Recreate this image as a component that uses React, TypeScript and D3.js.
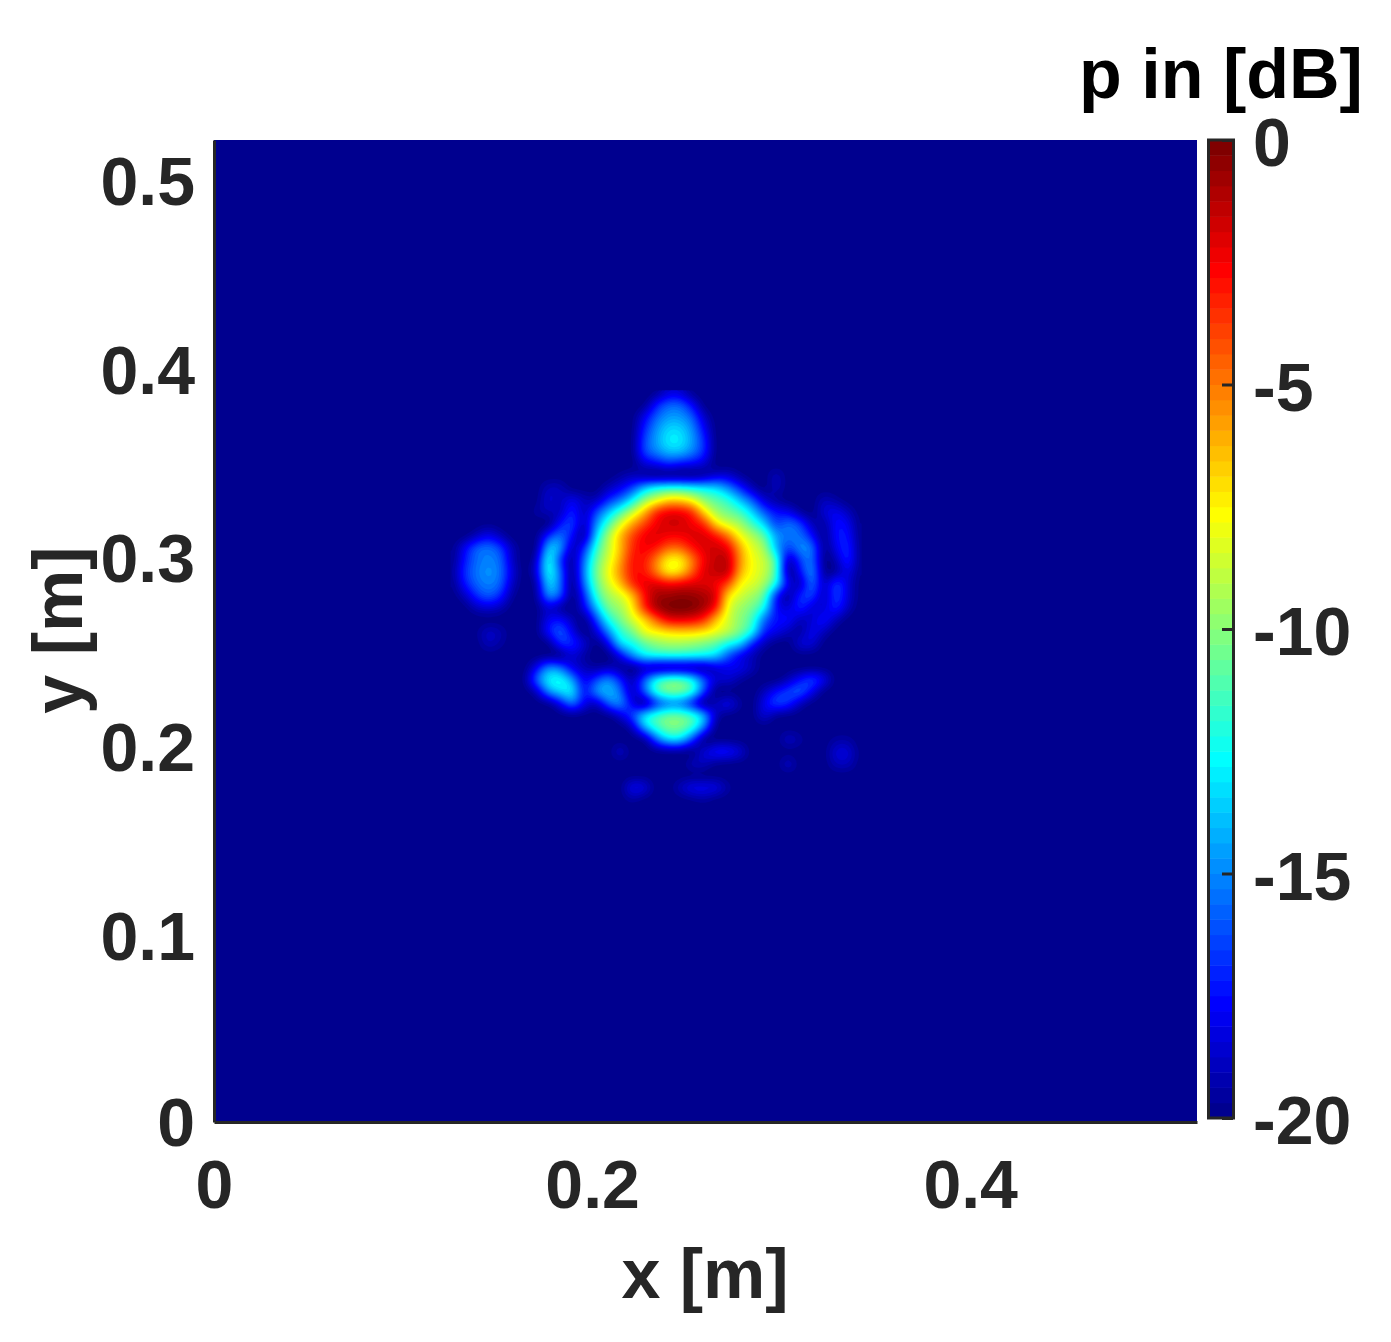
import { useEffect, useRef } from 'react'
import * as d3 from 'd3'

const xTicks = [0, 0.2, 0.4]
const yTicks = [0, 0.1, 0.2, 0.3, 0.4, 0.5]
const dbTicks = [0, -5, -10, -15, -20]
const xMax = 0.52
const yMax = 0.52
const dbMin = -20
const dbMax = 0
const levelCount = 64

// sound pressure in dB; everything outside this window is at the floor
const gridXStart = 0.1259
const gridYStart = 0.3866
const gridStep = 0.00635
const Z = -20
const fieldDb: number[][] = [
  [Z,Z,Z,Z,Z, Z,Z,Z,Z,Z, Z,Z,Z,Z,Z, Z,Z,Z,-18.8,-18.8, Z,Z,Z,Z,Z, Z,Z,Z,Z,Z, Z,Z,Z,Z,Z],
  [Z,Z,Z,Z,Z, Z,Z,Z,Z,Z, Z,Z,Z,Z,Z, Z,Z,-17.5,-16,-16, -17.8,Z,Z,Z,Z, Z,Z,Z,Z,Z, Z,Z,Z,Z,Z],
  [Z,Z,Z,Z,Z, Z,Z,Z,Z,Z, Z,Z,Z,Z,Z, Z,-18.2,-16,-14.8,-14.8, -16,-18.8,Z,Z,Z, Z,Z,Z,Z,Z, Z,Z,Z,Z,Z],
  [Z,Z,Z,Z,Z, Z,Z,Z,Z,Z, Z,Z,Z,Z,Z, Z,-17.2,-15,-13.6,-13.6, -15,-17.8,Z,Z,Z, Z,Z,Z,Z,Z, Z,Z,Z,Z,Z],
  [Z,Z,Z,Z,Z, Z,Z,Z,Z,Z, Z,Z,Z,Z,Z, Z,-16.5,-14.6,-13,-13, -14.6,-17,Z,Z,Z, Z,Z,Z,Z,Z, Z,Z,Z,Z,Z],
  [Z,Z,Z,Z,Z, Z,Z,Z,Z,Z, Z,Z,Z,Z,Z, Z,-16.5,-15.2,-14,-14, -15.2,-17,Z,Z,Z, Z,Z,Z,Z,Z, Z,Z,Z,Z,Z],
  [Z,Z,Z,Z,Z, Z,Z,Z,Z,Z, Z,Z,Z,Z,Z, Z,-18.5,-17.8,-17,-17.5, -17.8,-18.5,Z,Z,Z, Z,Z,Z,Z,Z, Z,Z,Z,Z,Z],
  [Z,Z,Z,Z,Z, Z,Z,Z,Z,Z, Z,Z,Z,Z,-19.5, -19,-19.5,Z,Z,Z, Z,-19.5,-18.5,-18.5,-19.5, Z,Z,-19,Z,Z, Z,Z,Z,Z,Z],
  [Z,Z,Z,Z,Z, Z,Z,Z,-19,-19, Z,Z,Z,-19,-18, -16.5,-14,-12.5,-12,-12, -12.5,-13,-13.5,-15,-17, -19,Z,-19,Z,Z, Z,Z,Z,Z,Z],
  [Z,Z,Z,Z,Z, Z,Z,Z,-18.5,-19, -18,-19,-19,-17,-15.5, -13,-10,-8.5,-7,-7, -8,-10,-11,-12,-14, -16,-18.5,-19.5,Z,Z, Z,-19,-19.5,Z,Z],
  [Z,Z,Z,Z,Z, Z,Z,-19.5,-19,-19, -17,-19,-16.5,-14,-11.5, -9,-6.5,-3.5,-2.5,-2.5, -3.5,-7,-9.5,-10.5,-11.5, -13.5,-16,-17.5,-18,-19.5, Z,-18.5,-18,-19,Z],
  [Z,Z,Z,-19.8,Z, Z,Z,Z,Z,-17.5, -16.5,-19,-15,-11.5,-8.5, -6,-4,-2.5,-1.8,-1.8, -2.5,-3.5,-7,-8.5,-9.5, -11.5,-13.5,-16.5,-15.5,-16.5, -19,-19.5,-17.5,-18,Z],
  [Z,Z,-19,-18,-19, Z,Z,Z,-17,-15.5, -17.5,-19.5,-13.5,-9.5,-6.5, -4,-2.5,-2,-2.5,-2.5, -2,-2,-3,-5,-7.8, -9.2,-11,-14.5,-15.5,-15.5, -17.5,-19.8,-17.5,-17.5,Z],
  [Z,-18,-16,-15.5,-16.5, -19,Z,Z,-14,-14.5, -19,-17,-12,-9,-6.5, -3.5,-2.5,-3,-4.5,-4.5, -3,-2,-1.8,-2.5,-6, -8.3,-9.5,-14,-16.5,-15, -15.5,-19.8,-18,-17,Z],
  [Z,-17.5,-15.7,-15.2,-15.7, -18.8,Z,-19,-12.5,-16.5, -19.5,-15.5,-11,-8.5,-6, -3,-3,-5,-7.5,-7.5, -5,-2.5,-1.5,-1.5,-5.5, -7.8,-8.8,-11.5,-19,-16.5, -15.5,Z,-19,-17,Z],
  [-19.8,-17,-15.5,-14.8,-15.5, -18.3,Z,-18.5,-12.5,-15.5, -19.8,-15,-10.5,-8,-5.5, -3,-3,-5,-7.5,-7, -4.5,-2,-1.5,-1.5,-6, -7.8,-8.8,-11.5,-19.5,-17.5, -15,-19.8,-19.5,-18,Z],
  [Z,-17.5,-15.8,-15.2,-15.8, -18.8,Z,-19.5,-13.5,-15.5, Z,-15.5,-11,-8.5,-6.5, -3.5,-2.2,-2,-2.5,-2.3, -2,-2,-2.5,-4,-7.5, -8.3,-9.5,-12.5,-18,-19, -15.5,-19,-16.5,-18.5,Z],
  [Z,-19,-17,-16,-17, -19.5,Z,-19.8,-15,-16, Z,-17,-12,-9.5,-8.5, -6.5,-3,-1,-0.8,-0.5, -0.6,-1,-2,-7,-8.5, -9.5,-11,-17,-19.5,-17, -16.5,-19,-16.5,-18.5,Z],
  [Z,Z,-19,-18.5,-19, Z,Z,Z,-18.5,-19.5, Z,-18,-14,-10.5,-9.5, -7.5,-3.5,-1,-0.2,0, -0.2,-1,-3,-8,-9.5, -10.5,-12.5,-17.5,-18.5,-17, -18.5,-18.5,-17,-19,Z],
  [Z,Z,Z,Z,Z, Z,Z,Z,-18,-17.5, -19,Z,-16.5,-12.5,-10.5, -8.5,-7,-4.5,-2.5,-2.2, -2.5,-3.5,-6.5,-8.5,-10, -11.5,-15.5,-17.5,-17.5,-19, -18.5,-17.5,-19,Z,Z],
  [Z,Z,-19.8,-18.8,-19.2, Z,Z,Z,-17.5,-16, -18,Z,-18.5,-15,-12, -10.5,-8,-7.5,-7,-6.8, -6.8,-7.2,-8,-9,-10.5, -12.5,-17,-18,-19,-19.5, -18,-19,Z,Z,Z],
  [Z,Z,Z,-19,-19.5, Z,Z,Z,Z,-17, -17,-18.5,Z,-18,-13.5, -12.5,-11,-10,-9.5,-9.5, -9.8,-10.3,-11,-12.5,-13.5, -17,-19,Z,Z,-18.5, -18.5,Z,Z,Z,Z],
  [Z,Z,Z,Z,Z, Z,Z,Z,Z,Z, -18.5,-19.5,Z,Z,-18, -15,-13,-12.5,-12.3,-12.3, -12.5,-12.8,-13.5,-16,-18, -19,Z,Z,Z,Z, Z,Z,Z,Z,Z],
  [Z,Z,Z,Z,Z, Z,Z,-18,-15,-15.5, -18,-19,-19.5,-19,-19.5, Z,-19,-19.5,-19.5,-19.5, -19.5,-19.5,-18.5,-18,-18, -19,Z,Z,Z,Z, Z,Z,Z,Z,Z],
  [Z,Z,Z,Z,Z, Z,-19.8,-16,-13,-12.5, -14.5,-18,-16.5,-15,-17, -19,-16,-12.5,-11,-11, -12.5,-16,-18.5,-18.5,-19.5, Z,Z,Z,-19,-17.5, -16.5,-18,Z,Z,Z],
  [Z,Z,Z,Z,Z, Z,Z,-19,-15,-13.5, -13,-17.5,-15,-14,-15.5, -19,-16,-12,-10.5,-10.5, -12,-16.5,Z,Z,Z, Z,-19,-17.5,-16.5,-16, -18,Z,Z,Z,Z],
  [Z,Z,Z,Z,Z, Z,Z,Z,Z,-18, -15.5,-18,-19,-16,-15, -18,-19.8,-17,-15.5,-15.5, -17.5,Z,-19,-18,-19.5, Z,-18,-16.5,-17,-19, Z,Z,Z,Z,Z],
  [Z,Z,Z,Z,Z, Z,Z,Z,Z,Z, Z,Z,Z,Z,-18.5, -16.5,-13,-11.5,-10.5,-10.5, -11.5,-14,-19,Z,Z, Z,-18.5,-19.8,Z,Z, Z,Z,Z,Z,Z],
  [Z,Z,Z,Z,Z, Z,Z,Z,Z,Z, Z,Z,Z,Z,Z, -19,-14.5,-12,-10.5,-10.5, -12,-15.5,Z,Z,Z, Z,Z,Z,Z,Z, Z,Z,Z,Z,Z],
  [Z,Z,Z,Z,Z, Z,Z,Z,Z,Z, Z,Z,Z,Z,Z, Z,Z,-16,-13.5,-13.5, -16.5,Z,Z,Z,Z, Z,Z,Z,-18.8,-19.5, Z,Z,-19.5,-19.5,Z],
  [Z,Z,Z,Z,Z, Z,Z,Z,Z,Z, Z,Z,Z,Z,-18.8, Z,Z,Z,Z,Z, Z,-18.5,-17.5,-17.5,-18.5, Z,Z,Z,Z,Z, Z,Z,-18.5,-18.5,Z],
  [Z,Z,Z,Z,Z, Z,Z,Z,Z,Z, Z,Z,Z,Z,Z, Z,Z,Z,Z,Z, -19,-19,-19.8,Z,Z, Z,Z,Z,-18.8,Z, Z,Z,-19,-19,Z],
  [Z,Z,Z,Z,Z, Z,Z,Z,Z,Z, Z,Z,Z,Z,Z, Z,Z,Z,Z,Z, Z,Z,Z,Z,Z, Z,Z,Z,Z,Z, Z,Z,Z,Z,Z],
  [Z,Z,Z,Z,Z, Z,Z,Z,Z,Z, Z,Z,Z,Z,Z, -18,-18.3,Z,Z,-19, -18,-18,-18.2,-19.5,Z, Z,Z,Z,Z,Z, Z,Z,Z,Z,Z],
  [Z,Z,Z,Z,Z, Z,Z,Z,Z,Z, Z,Z,Z,Z,Z, -19.5,Z,Z,Z,Z, -19.8,-19.5,Z,Z,Z, Z,Z,Z,Z,Z, Z,Z,Z,Z,Z],
  [Z,Z,Z,Z,Z, Z,Z,Z,Z,Z, Z,Z,Z,Z,Z, Z,Z,Z,Z,Z, Z,Z,Z,Z,Z, Z,Z,Z,Z,Z, Z,Z,Z,Z,Z],
]

// matlab jet with 64 entries
function jet(k: number) {
  const t = (k + 1) / levelCount
  const ch = (c: number) => Math.round(255 * Math.max(0, Math.min(1, 1.5 - Math.abs(4 * t - c))))
  return `rgb(${ch(3)},${ch(2)},${ch(1)})`
}

const catmull = (a: number, b: number, c: number, d: number, t: number) =>
  b + 0.5 * t * (c - a + t * (2 * a - 5 * b + 4 * c - d + t * (3 * (b - c) + d - a)))

// resample the read grid finer so the contour bands come out round
function refine(rows: number[][], factor: number) {
  const nRows = rows.length
  const nCols = rows[0].length
  const width = (nCols - 1) * factor + 1
  const height = (nRows - 1) * factor + 1
  const data = new Float64Array(width * height)
  const at = (j: number, i: number) => rows[Math.max(0, Math.min(nRows - 1, j))][Math.max(0, Math.min(nCols - 1, i))] ?? Z
  for (let j = 0; j < height; j++) {
    const gy = j / factor
    const j0 = Math.floor(gy)
    for (let i = 0; i < width; i++) {
      const gx = i / factor
      const i0 = Math.floor(gx)
      const col = [-1, 0, 1, 2].map(dj =>
        catmull(at(j0 + dj, i0 - 1), at(j0 + dj, i0), at(j0 + dj, i0 + 1), at(j0 + dj, i0 + 2), gx - i0)
      )
      const v = catmull(col[0], col[1], col[2], col[3], gy - j0)
      data[j * width + i] = Math.max(dbMin, Math.min(dbMax, v))
    }
  }
  d3.blur2({ data, width, height }, 1)
  return { data, width, height }
}

export default function App() {
  const svgRef = useRef<SVGSVGElement>(null)

  useEffect(() => {
    if (!svgRef.current) return

    const svg = d3.select(svgRef.current)
    svg.selectAll('*').remove()

    const plot = { left: 214, right: 1197, top: 140, bottom: 1122 }
    const x = d3.scaleLinear().domain([0, xMax]).range([plot.left, plot.right])
    const y = d3.scaleLinear().domain([0, yMax]).range([plot.bottom, plot.top])
    const c = d3.scaleLinear().domain([dbMin, dbMax]).range([1118, 140])

    // Heat map
    svg.append('rect')
      .attr('x', plot.left)
      .attr('y', plot.top)
      .attr('width', plot.right - plot.left)
      .attr('height', plot.bottom - plot.top)
      .attr('fill', jet(0))

    const factor = 4
    const fine = refine(fieldDb, factor)
    const thresholds = d3.range(1, levelCount).map(k => dbMin + (k * (dbMax - dbMin)) / levelCount)
    const contours = d3.contours().size([fine.width, fine.height]).smooth(true).thresholds(thresholds)(Array.from(fine.data))
    const project = d3.geoTransform({
      point(px, py) {
        this.stream.point(
          x(gridXStart + ((px - 0.5) / factor) * gridStep),
          y(gridYStart - ((py - 0.5) / factor) * gridStep)
        )
      },
    })
    const path = d3.geoPath(project)
    svg.append('g')
      .selectAll('path')
      .data(contours)
      .enter()
      .append('path')
      .attr('d', d => path(d))
      .attr('fill', (_, i) => jet(i + 1))

    // Axes
    const styleAxis = (g: any, size: number) => {
      g.selectAll('path').attr('stroke', '#262626').attr('stroke-width', 3)
      g.selectAll('line').attr('stroke', '#262626').attr('stroke-width', 3)
      g.selectAll('text')
        .style('font-family', '"Liberation Sans", Arial, sans-serif')
        .style('font-weight', 700)
        .style('font-size', `${size}px`)
        .style('fill', '#262626')
    }

    const xAxis = svg.append('g')
      .attr('transform', `translate(0,${plot.bottom})`)
      .call(d3.axisBottom(x).tickValues(xTicks).tickFormat(d => String(d)).tickSize(0).tickPadding(38))
    styleAxis(xAxis, 68)

    const yAxis = svg.append('g')
      .attr('transform', `translate(${plot.left},0)`)
      .call(d3.axisLeft(y).tickValues(yTicks).tickFormat(d => String(d)).tickSize(0).tickPadding(19))
    styleAxis(yAxis, 68)
    yAxis.selectAll('text').attr('dy', (d: any) => (d === 0 ? '0.35em' : '0.39em'))

    // Colorbar
    const band = d3.scaleBand<number>()
      .domain(d3.range(levelCount))
      .range([c(dbMin), c(dbMax)])
    svg.append('g')
      .selectAll('rect')
      .data(d3.range(levelCount))
      .enter()
      .append('rect')
      .attr('x', 1209)
      .attr('y', d => band(d) || 0)
      .attr('width', 24)
      .attr('height', band.bandwidth() + 0.5)
      .attr('fill', d => jet(d))
    svg.append('rect')
      .attr('x', 1208.5)
      .attr('y', c(dbMax))
      .attr('width', 25)
      .attr('height', c(dbMin) - c(dbMax))
      .attr('fill', 'none')
      .attr('stroke', '#262626')
      .attr('stroke-width', 3)

    const cAxis = svg.append('g')
      .attr('transform', 'translate(1233,0)')
      .call(d3.axisRight(c).tickValues(dbTicks).tickFormat(d => String(d)).tickSize(-11).tickPadding(20).tickSizeOuter(0))
    styleAxis(cAxis, 68)
    cAxis.select('path').remove()
    cAxis.selectAll('text').attr('transform', 'translate(0,4)')

    // Labels
    const label = (text: string, lx: number, ly: number, fill: string, rotate = 0) =>
      svg.append('text')
        .attr('transform', `translate(${lx},${ly}) rotate(${rotate})`)
        .attr('text-anchor', 'middle')
        .style('font-family', '"Liberation Sans", Arial, sans-serif')
        .style('font-weight', 700)
        .style('font-size', '70px')
        .style('fill', fill)
        .text(text)

    label('x [m]', 705, 1298, '#262626')
    label('y [m]', 82, 630, '#262626', -90)
    label('p in [dB]', 1221, 98, '#000000')
  }, [])

  return (
    <svg
      ref={svgRef}
      width={1391}
      height={1342}
      style={{ position: 'absolute', left: 0, top: 0, background: '#fff' }}
    />
  )
}
